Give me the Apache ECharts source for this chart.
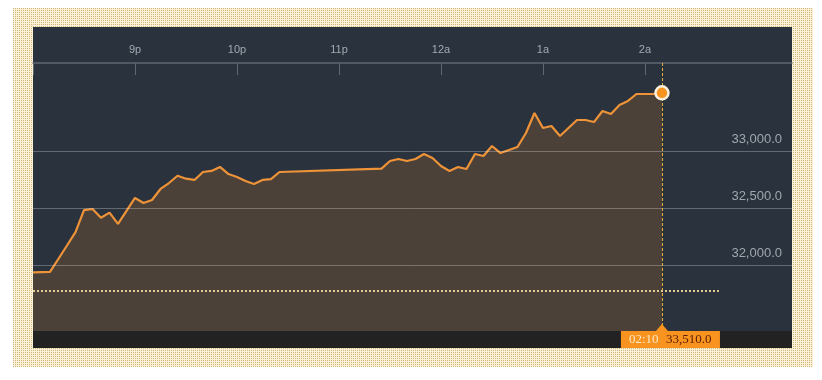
<!DOCTYPE html>
<html><head><meta charset="utf-8">
<script src="https://cdn.jsdelivr.net/npm/echarts@6/dist/echarts.min.js"></script>
<style>
html,body{margin:0;padding:0;background:#fff;}
#bg{position:absolute;left:13px;top:8px;width:800px;height:359px;background-color:#f8edcf;}
#chart{position:absolute;left:0;top:0;width:822px;height:380px;}
</style></head><body>
<div id="bg"></div><div id="chart"></div>
<script>
// minutes after 20:00 (8p)
const minutes = [0,5,10,15,20,25,30,35,40,45,50,55,60,65,70,75,80,85,90,95,100,105,110,115,120,125,130,135,140,145,
  205,210,215,220,225,230,235,240,245,250,255,260,265,270,275,280,285,290,295,300,305,310,315,320,325,330,335,340,345,350,355,360,365,370];
const values = [31935,31938,31940,32055,32171,32289,32482,32491,32415,32459,32360,32474,32588,32544,32570,32667,32719,32783,32757,32746,32816,32825,32860,32798,32772,32737,32711,32746,32754,32816,
  32846,32912,32930,32912,32930,32974,32939,32868,32825,32860,32842,32974,32956,33044,32982,33009,33035,33158,33333,33202,33219,33132,33202,33272,33272,33254,33351,33325,33404,33439,33500,33500,33500,33510];
const hourTicks = [0,60,120,180,240,300,360];
const hourLabels = ['8p','9p','10p','11p','12a','1a','2a'];
const yGridValues = [32000,32500,33000];
const prevClose = 31772;
const prevCloseEnd = 403.5;
const xMax = 446.5;
const yMin = 31421, yMax = 33772;

// dotted paper background
(function(){
  const c = document.createElement('canvas'); c.width = 2; c.height = 2;
  const g = c.getContext('2d');
  g.fillStyle = '#fbf2d8'; g.fillRect(0,0,2,2);
  g.fillStyle = '#cfb47c'; g.fillRect(0,0,1,1);
  const bg = document.getElementById('bg');
  bg.style.backgroundImage = 'url(' + c.toDataURL() + ')';
  bg.style.imageRendering = 'pixelated';
})();

const fmtNum = v => v.toLocaleString('en-US',{minimumFractionDigits:1,maximumFractionDigits:1});
const lastT = minutes[minutes.length-1], lastV = values[values.length-1];
const clock = t => { const m = (20*60 + t) % 1440; return String(Math.floor(m/60)).padStart(2,'0')+':'+String(m%60).padStart(2,'0'); };

const chart = echarts.init(document.getElementById('chart'), null, {renderer:'canvas'});
const gridLines = yGridValues.map(v => ({
  yAxis: v,
  lineStyle:{color:'rgba(255,255,255,0.27)', width:1, type:'solid'},
  label:{show:true, position:'insideEndTop', formatter: fmtNum(v), color:'#a0a6ad', fontSize:13, fontFamily:'Liberation Sans', distance:[10,5]}
}));
chart.setOption({
  backgroundColor:'transparent',
  animation:false,
  grid:{left:33, right:30, top:63, bottom:49},
  xAxis:{type:'value', position:'top', min:0, max:xMax, interval:60,
    axisLine:{show:true, lineStyle:{color:'#5f6771', width:1.5}},
    axisTick:{show:true, inside:true, length:12, customValues:hourTicks, lineStyle:{color:'#5f6771', width:1}},
    axisLabel:{customValues:hourTicks.slice(1), color:'#a3a9b0', fontSize:11, fontFamily:'Liberation Sans', margin:8,
      formatter: v => { const i = hourTicks.indexOf(v); return i > 0 ? hourLabels[i] : ''; }},
    splitLine:{show:false}},
  yAxis:{type:'value', min:yMin, max:yMax, show:false, splitLine:{show:false}},
  series:[
    {type:'line', data: minutes.map((m,i)=>[m, values[i]]), showSymbol:false, symbol:'none',
     lineStyle:{color:'#ee9338', width:2.2}, areaStyle:{color:'#4b4139', opacity:1, origin:'start'}, z:2,
     markLine:{silent:true, symbol:'none', animation:false,
       data:[
         ...gridLines,
         {xAxis:lastT, lineStyle:{color:'#e8b23a', type:[3,2], width:1}, label:{show:false}},
         [{coord:[0, prevClose], lineStyle:{color:'#e2cc94', type:[2,2], width:2}, label:{show:false}}, {coord:[prevCloseEnd, prevClose]}]
       ]}},
    {type:'scatter', data:[[lastT, lastV]], symbolSize:13, z:5,
     itemStyle:{color:'#f7931e', opacity:1, borderColor:'#fdf1df', borderWidth:2.5}}
  ]
});
const p = chart.convertToPixel({seriesIndex:0}, [lastT, lastV]);
const yb = chart.convertToPixel({yAxisIndex:0}, yMin);
const px = p[0];
chart.setOption({graphic:[
  {type:'rect', z:-10, shape:{x:33,y:27,width:759,height:321}, style:{fill:'#2a323d'}},
  {type:'rect', z:1, shape:{x:33,y:331,width:759,height:17}, style:{fill:'#222222'}},
  {type:'rect', z:10, shape:{x:px-41, y:yb, width:99, height:17}, style:{fill:'#f7931e'}},
  {type:'polygon', z:10, shape:{points:[[px-6,yb],[px,yb-7],[px+6,yb]]}, style:{fill:'#f7931e'}},
  {type:'text', z:11, x:px-33, y:yb+9, style:{text:clock(lastT), fill:'#ffe9c4', font:'13px "Liberation Serif"', verticalAlign:'middle', align:'left'}},
  {type:'text', z:11, x:px+4, y:yb+9, style:{text:fmtNum(lastV), fill:'#5a1c06', font:'13px "Liberation Serif"', verticalAlign:'middle', align:'left'}}
]});
</script>
</body></html>
